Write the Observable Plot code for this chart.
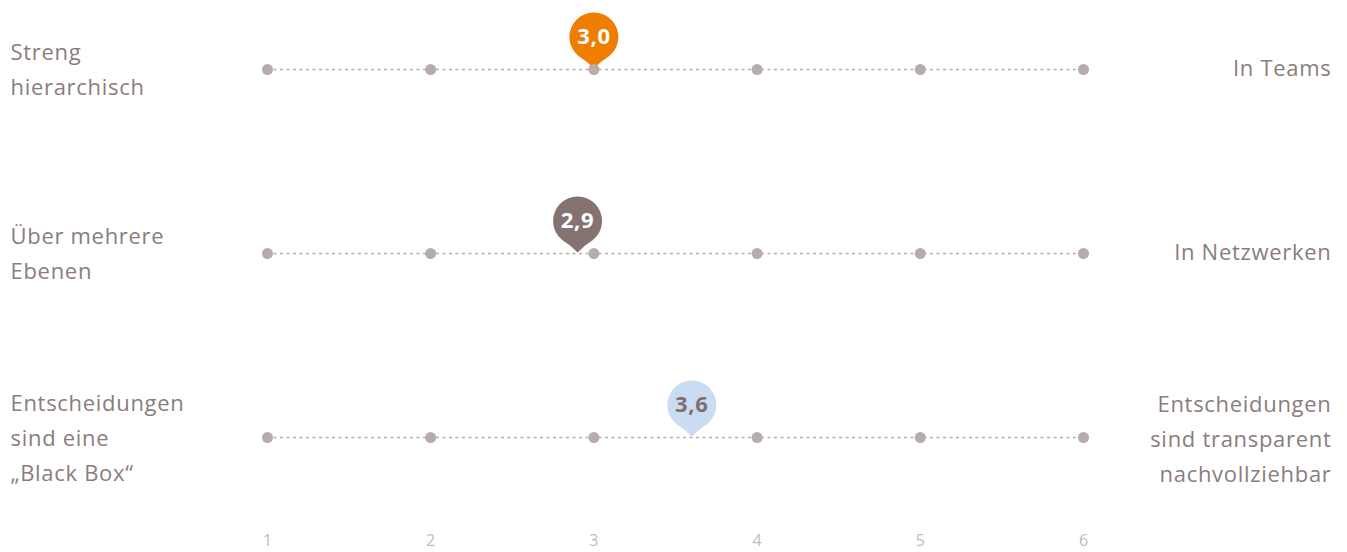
<!DOCTYPE html>
<html><head><meta charset="utf-8">
<script src="https://cdn.jsdelivr.net/npm/d3@7"></script>
<script src="https://cdn.jsdelivr.net/npm/@observablehq/plot@0.6"></script>
<style>
html,body{margin:0;padding:0;background:#fff;}
#chart svg{display:block;font-family:"Open Sans",Lato,sans-serif;}
#chart svg g[aria-label="text"] text{letter-spacing:0.7px;}
</style></head>
<body><div id="chart"></div>
<script>
const rows = ["r1", "r2", "r3"];
const leftLabels = ["Streng\nhierarchisch", "Über mehrere\nEbenen", "Entscheidungen\nsind eine\n„Black Box“"];
const rightLabels = ["In Teams", "In Netzwerken", "Entscheidungen\nsind transparent\nnachvollziehbar"];
const values = [3.0, 2.9, 3.6];
const pinColors = ["#ef7d00", "#857371", "#cadcf2"];
const valueTextColors = ["#ffffff", "#ffffff", "#7d6f6f"];
const scaleTicks = [1, 2, 3, 4, 5, 6];

const grey = "#b7acac";
const textColor = "#8a7d7d";

const rowData = rows.map((r, i) => ({row: r, left: leftLabels[i], right: rightLabels[i], value: values[i],
  color: pinColors[i], tcolor: valueTextColors[i], label: values[i].toFixed(1).replace(".", ",")}));
const dotData = rows.flatMap(r => scaleTicks.map(t => ({row: r, x: t})));
const singleRight = rowData.filter(d => !d.right.includes("\n"));
const multiRight = rowData.filter(d => d.right.includes("\n"));

const pin = {
  draw(ctx) {
    const cy = -32.5, r = 24.5, tip = -1;
    const a = Math.acos(r / (tip - cy));
    const px = r * Math.sin(a), py = cy + r * Math.cos(a);
    ctx.moveTo(0, tip);
    ctx.quadraticCurveTo(-px * 0.45, (tip + py) / 2 - 1, -px, py);
    ctx.arc(0, cy, r, Math.PI / 2 + a, Math.PI / 2 - a + 2 * Math.PI);
    ctx.quadraticCurveTo(px * 0.45, (tip + py) / 2 - 1, 0, tip);
    ctx.closePath();
  }
};

const chart = Plot.plot({
  width: 1347,
  height: 552,
  marginLeft: 267,
  marginRight: 264,
  marginTop: 68,
  marginBottom: 115,
  x: {domain: [1, 6], ticks: scaleTicks, tickFormat: d => String(d)},
  y: {type: "point", domain: rows, padding: 0, axis: null},
  marks: [
    Plot.ruleY(rows, {y: d => d, x1: 1, x2: 6, stroke: grey, strokeWidth: 1.5, strokeDasharray: "3,3.5"}),
    Plot.dot(rowData, {x: "value", y: "row", symbol: pin, r: 24, fill: "color", stroke: null}),
    Plot.dot(dotData, {x: "x", y: "row", r: 5.5, fill: grey}),
    Plot.text(rowData, {x: "value", y: "row", text: "label", dy: -33, fill: "tcolor", fontSize: 22, fontWeight: "bold"}),
    Plot.text(rowData, {y: "row", text: "left", frameAnchor: "left", dx: -257, dy: -3, textAnchor: "start",
      fill: textColor, fontSize: 22, lineHeight: 1.6, lineAnchor: "middle"}),
    Plot.text(singleRight, {y: "row", text: "right", frameAnchor: "right", dx: 248, dy: -5, textAnchor: "end",
      fill: textColor, fontSize: 22, lineHeight: 1.6, lineAnchor: "middle"}),
    Plot.text(multiRight, {y: "row", text: "right", frameAnchor: "right", dx: 248, dy: -2, textAnchor: "end",
      fill: textColor, fontSize: 22, lineHeight: 1.6, lineAnchor: "middle"}),
    Plot.axisX({ticks: scaleTicks, tickSize: 0, tickPadding: 97, fontSize: 16, fill: "#c4baba", label: null, tickFormat: d => String(d)})
  ]
});
document.getElementById("chart").appendChild(chart);
</script>
</body></html>
